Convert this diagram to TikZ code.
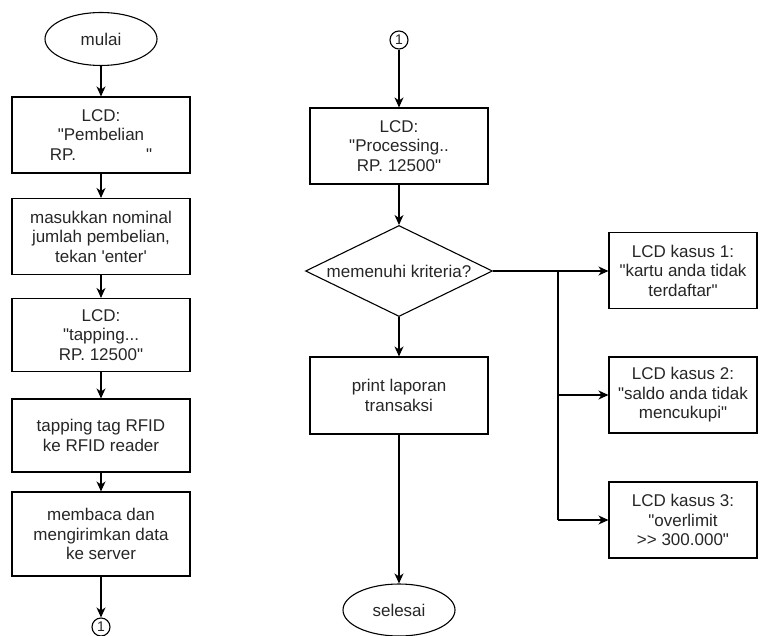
\documentclass[tikz,border=0pt]{standalone}
\usepackage{fontspec}
\newfontfamily\arial{Liberation Sans}
\usetikzlibrary{shapes.geometric,arrows.meta}
\begin{document}
\begin{tikzpicture}[x=1pt,y=-1pt,
  every node/.style={font=\arial\fontsize{17}{19.5}\selectfont, text=black!85},
  procbox/.style={draw, line width=1.1pt, minimum width=178pt, minimum height=76pt, align=center, inner sep=0pt},
  casebox/.style={draw, line width=1.1pt, minimum width=148pt, minimum height=76pt, align=center, inner sep=0pt},
  term/.style={draw, ellipse, line width=1.1pt, minimum width=112pt, minimum height=53pt, inner sep=0pt},
  conn/.style={draw, circle, line width=1.1pt, minimum size=18pt, inner sep=0pt, font=\arial\fontsize{14}{14}\selectfont},
  flow/.style={line width=1.1pt, -{Stealth[length=10pt,width=9pt,inset=3pt]}},
  plain/.style={line width=1.1pt}
]
\useasboundingbox (0,0) rectangle (775,636);
% left column
\node[term] (mulai) at (101,39) {mulai};
\node[procbox] (b1) at (101,135) {LCD:\\"Pembelian\\RP.\hspace{70pt}"};
\node[procbox] (b2) at (101,236.5) {masukkan nominal\\jumlah pembelian,\\tekan 'enter'};
\node[procbox, minimum height=73pt] (b3) at (101,335) {LCD:\\"tapping...\\RP. 12500"};
\node[procbox, minimum height=73pt] (b4) at (101,435.5) {tapping tag RFID\\ke RFID reader};
\node[procbox, minimum height=84pt] (b5) at (101,534) {membaca dan\\mengirimkan data\\ke server};
\node[conn] (c1) at (101,627) {1};
\draw[flow] (mulai) -- (b1);
\draw[flow] (b1) -- (b2);
\draw[flow] (b2) -- (b3);
\draw[flow] (b3) -- (b4);
\draw[flow] (b4) -- (b5);
\draw[flow] (b5) -- (c1);
% right column
\node[conn] (c2) at (399,40) {1};
\node[procbox] (p1) at (399,146) {LCD:\\"Processing..\\RP. 12500"};
\node[diamond, draw, line width=1.1pt, minimum width=187pt, minimum height=91pt, aspect=2.05, inner sep=0pt] (d) at (399,271) {};
\node at (d) {memenuhi kriteria?};
\node[procbox, minimum height=77pt] (pr) at (399,395.5) {print laporan\\transaksi};
\node[term, minimum height=52pt] (selesai) at (399,610) {selesai};
\node[casebox] (k1) at (683,270.5) {LCD kasus 1:\\"kartu anda tidak\\terdaftar"};
\node[casebox] (k2) at (683,395) {LCD kasus 2:\\"saldo anda tidak\\mencukupi"};
\node[casebox] (k3) at (683,520) {LCD kasus 3:\\"overlimit\\>> 300.000"};
\coordinate (br) at (558,271);
\draw[flow] (c2) -- (p1);
\draw[flow] (p1) -- (d);
\draw[flow] (d) -- (pr);
\draw[flow] (pr) -- (selesai);
\draw[flow] (d.east) -- (k1.west |- d.east);
\draw[plain] (br) -- (br |- k3.west);
\draw[flow] (br |- k2.west) -- (k2.west);
\draw[flow] (br |- k3.west) -- (k3.west);
\end{tikzpicture}
\end{document}
